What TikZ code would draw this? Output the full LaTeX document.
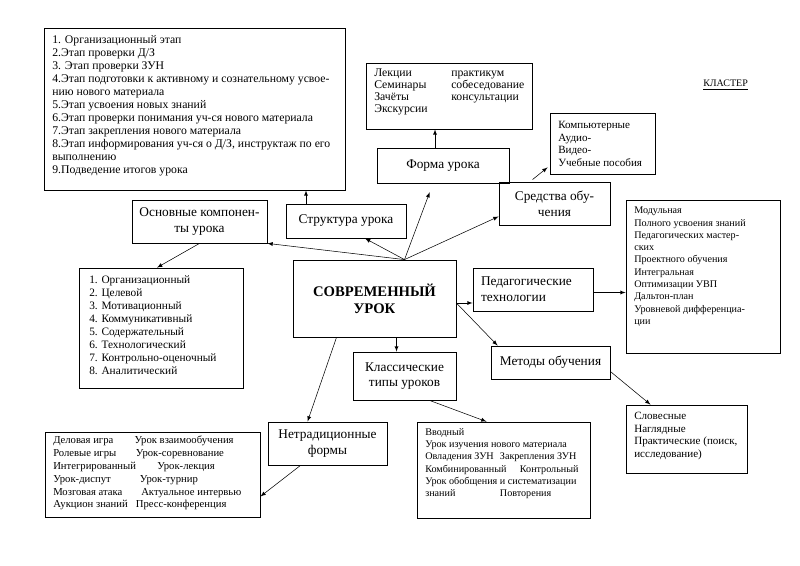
\documentclass[tikz,border=0pt]{standalone}
\usepackage{fontspec}
\setmainfont{Liberation Serif}
\usetikzlibrary{fit}

\begin{document}
\begin{tikzpicture}[x=0.75pt,y=-0.75pt,
    box/.style={draw, line width=0.6pt, inner sep=0pt},
    lbl/.style={font=\fontsize{10}{11.7}\selectfont, align=center},
    lst/.style={anchor=north west, inner sep=0pt, align=left,
        font=\fontsize{8.3}{9.5}\selectfont},
    small/.style={font=\fontsize{7.6}{9.2}\selectfont}]
    \useasboundingbox (0,0) rectangle (800,566);

    % centre
    \node[box, minimum width=122.25pt, minimum height=57.75pt, align=center,
        font=\fontsize{11}{12.5}\selectfont\bfseries] (cent) at (374.5,298.5) {СОВРЕМЕННЫЙ\\УРОК};

    % boxes with one label
    \node[box, lbl, minimum width=101.25pt, minimum height=32.25pt] (osn) at (199.5,221.5) {Основные компонен-\\ты урока};
    \node[box, lbl, minimum width=90pt, minimum height=25.5pt] (str) at (346,221) {Структура урока};
    \node[box, lbl, minimum width=99pt, minimum height=26.25pt] (frm) at (443,165.5) {Форма урока};
    \node[box, lbl, minimum width=83.25pt, minimum height=32.25pt] (sred) at (554.5,203.5) {Средства обу-\\чения};
    \node[box, lbl, align=left, text width=78pt, minimum width=90pt, minimum height=32.25pt] (ped) at (533,289.5) {Педагогические\\технологии};
    \node[box, lbl, minimum width=89.25pt, minimum height=24.75pt] (met) at (550.5,362.5) {Методы обучения};
    \node[box, lbl, minimum width=77.25pt, minimum height=36pt] (kls) at (404.5,376) {Классические\\типы уроков};
    \node[box, lbl, minimum width=89.25pt, minimum height=32.25pt] (net) at (327.5,443.5) {Нетрадиционные\\формы};

    % boxes with lists
    \node[box, fit={(44,28) (345,190)}] (lstS) {};
    \node[lst, font=\fontsize{8.8}{9.75}\selectfont] (lstSt) at (52,35) {1. Организационный этап\\
        2.Этап проверки Д/З\\
        3. Этап проверки ЗУН\\
        4.Этап подготовки к активному и сознательному усвое-\\
        нию нового материала\\
        5.Этап усвоения новых знаний\\
        6.Этап проверки понимания уч-ся нового материала\\
        7.Этап закрепления нового материала\\
        8.Этап информирования уч-ся о Д/З, инструктаж по его\\
        выполнению\\
        9.Подведение итогов урока};

    \node[box, fit={(366,63) (532,129)}] (lek) {};
    \node[lst, font=\fontsize{8.8}{9}\selectfont] (lekt) at (374,69) {\makebox[57.75pt][l]{Лекции}практикум\\
        \makebox[57.75pt][l]{Семинары}собеседование\\
        \makebox[57.75pt][l]{Зачёты}консультации\\
        Экскурсии};

    \node[box, fit={(550,113) (655,174)}] (komp) {};
    \node[lst] (kompt) at (558,121) {Компьютерные\\Аудио-\\Видео-\\Учебные пособия};

    \node[box, fit={(626,200) (780,353)}] (mod) {};
    \node[lst, small] (modt) at (634,207) {Модульная\\
        Полного усвоения знаний\\
        Педагогических мастер-\\
        ских\\
        Проектного обучения\\
        Интегральная\\
        Оптимизации УВП\\
        Дальтон-план\\
        Уровневой дифференциа-\\
        ции};

    \node[box, fit={(626,405) (747,473)}] (slov) {};
    \node[lst] (slovt) at (634,412) {Словесные\\Наглядные\\Практические (поиск,\\исследование)};

    \node[box, fit={(417,422) (590,518)}] (vvod) {};
    \node[lst, small] (vvodt) at (425,428) {Вводный\\
        Урок изучения нового материала\\
        \makebox[56pt][l]{Овладения ЗУН}Закрепления ЗУН\\
        \makebox[71pt][l]{Комбинированный}Контрольный\\
        Урок обобщения и систематизации\\
        \makebox[56pt][l]{знаний}Повторения};

    \node[box, fit={(45,432) (260,517)}] (del) {};
    \node[lst, font=\fontsize{8}{9.6}\selectfont] (delt) at (53,436) {\makebox[61pt][l]{Деловая игра}Урок взаимообучения\\
        \makebox[62pt][l]{Ролевые игры}Урок-соревнование\\
        \makebox[78pt][l]{Интегрированный}Урок-лекция\\
        \makebox[65pt][l]{Урок-диспут}Урок-турнир\\
        \makebox[66pt][l]{Мозговая атака}Актуальное интервью\\
        \makebox[62pt][l]{Аукцион знаний}Пресс-конференция};

    \node[box, fit={(79,268) (243,388)}] (org) {};
    \node[lst, font=\fontsize{8.5}{9.75}\selectfont] (orgt) at (89,275) {1. Организационный\\
        2. Целевой\\
        3. Мотивационный\\
        4. Коммуникативный\\
        5. Содержательный\\
        6. Технологический\\
        7. Контрольно-оценочный\\
        8. Аналитический};

    \node[anchor=base west, inner sep=0pt, font=\fontsize{7.5}{9}\selectfont] (klas) at (703,87) {\underline{КЛАСТЕР}};

    % connectors
    \coordinate (hub) at ([shift={(30,0)}]cent.north);
    \draw[->, >=latex] (hub) -- (osn.south east);
    \draw[->, >=latex] (hub) -- ([shift={(19,0)}]str.south);
    \draw[->, >=latex, shorten >=7pt] (hub) -- ([shift={(-10,0)}]frm.south);
    \draw[->, >=latex] (hub) -- ([shift={(0,13)}]sred.west);
    \draw[->, >=latex] ([shift={(0,4.5)}]cent.east) -- ([shift={(0,13.5)}]ped.west);
    \draw[->, >=latex] ([shift={(0,4.5)}]cent.east) -- ([shift={(7,0)}]met.north west);
    \draw[->, >=latex] ([shift={(22,0)}]cent.south) -- ([shift={(-8,0)}]kls.north);
    \draw[->, >=latex] ([shift={(-38,0)}]cent.south) -- ([shift={(-20,0)}]net.north);
    \draw[->, >=latex] (osn.south) -- ([shift={(-4,0)}]org.north);
    \draw[->, >=latex] ([shift={(-40,0)}]str.north) -- ([shift={(111.5,0)}]lstS.south);
    \draw[->, >=latex] ([shift={(-8,0)}]frm.north) -- ([shift={(-14,0)}]lek.south);
    \draw[->, >=latex] ([shift={(-22,-2)}]sred.north) -- ([shift={(-2,-7)}]komp.south west);
    \draw[->, >=latex] ([shift={(0,3)}]ped.east) -- ([shift={(0,16)}]mod.west);
    \draw[->, >=latex] ([shift={(0,9)}]met.east) -- ([shift={(-36,0)}]slov.north);
    \draw[->, >=latex] ([shift={(25,0)}]kls.south) -- ([shift={(-17,0)}]vvod.north);
    \draw[->, >=latex] ([shift={(-27,0)}]net.south) -- ([shift={(0,22)}]del.east);
\end{tikzpicture}
\end{document}
